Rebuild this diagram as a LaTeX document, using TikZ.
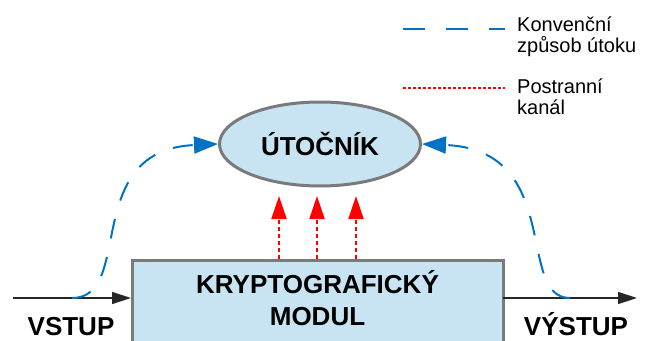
\documentclass[tikz,border=0pt]{standalone}
\usepackage{fontspec}
\setmainfont{Liberation Sans}
\usetikzlibrary{arrows.meta,shapes.geometric}
\definecolor{boxfill}{RGB}{200,228,243}
\definecolor{boxline}{RGB}{122,122,122}
\definecolor{attackblue}{RGB}{0,114,198}
\definecolor{sidered}{RGB}{255,0,0}
\tikzset{
  boxframe/.style={draw=boxline, line width=3pt, fill=boxfill},
  bigtext/.style={font=\fontsize{26}{32}\selectfont\bfseries, inner sep=0pt},
  legendtext/.style={font=\fontsize{20}{21}\selectfont, inner sep=0pt, anchor=base west},
  flowarrow/.style={line width=1.4pt, draw=black!85, -{Triangle[length=19pt,width=12pt]}},
  conventional/.style={line width=2pt, draw=attackblue, dash pattern=on 20pt off 19pt,
    -{Triangle[length=24pt,width=17pt,fill=attackblue]}},
  sidechannel/.style={line width=2pt, draw=sidered, dash pattern=on 4pt off 3pt,
    -{Triangle[length=23pt,width=15pt,fill=sidered]}},
}
\begin{document}
\begin{tikzpicture}[x=1pt,y=-1pt]
  \useasboundingbox (0,0) rectangle (645,340);

  % cryptographic module (runs past the lower edge)
  \node[boxframe, rectangle, minimum width=371pt, minimum height=110pt, anchor=north, inner sep=0pt]
    (module) at (317.5,259) {};
  \node[bigtext, anchor=base] (modline1) at (317.5,293) {KRYPTOGRAFICKÝ};
  \node[bigtext, anchor=base] (modline2) at (317.5,325) {MODUL};

  % attacker
  \node[boxframe, ellipse, minimum width=201pt, minimum height=84pt, inner sep=0pt]
    (attacker) at (320,144) {};
  \node[bigtext] (attackertext) at (320,144) {ÚTOČNÍK};

  % input and output
  \coordinate (inStart) at (13,298);
  \coordinate (inEnd) at (131,298);
  \coordinate (outStart) at (503,298);
  \coordinate (outEnd) at (637,298);
  \draw[flowarrow] (inStart) -- (inEnd);
  \draw[flowarrow] (outStart) -- (outEnd);
  \node[bigtext, anchor=base] (inlabel) at (71,335) {VSTUP};
  \node[bigtext, anchor=base] (outlabel) at (576,335) {VÝSTUP};

  % conventional attack paths
  \coordinate (convIn) at (72,298);
  \coordinate (convOut) at (570,298);
  \draw[conventional] (convIn) .. controls (135,298) and (80,150) .. (attacker.west);
  \draw[conventional] (convOut) .. controls (515,298) and (565,150) .. (attacker.east);

  % side channels
  \foreach \x [count=\i] in {279,317,356} {
    \coordinate (scBase\i) at (\x,259);
    \coordinate (scTip\i) at (\x,196);
    \draw[sidechannel] (scBase\i) -- (scTip\i);
  }

  % legend
  \coordinate (legA1) at (403,29);
  \coordinate (legA2) at (505,29);
  \draw[line width=2pt, draw=attackblue, dash pattern=on 22pt off 21pt] (legA1) -- (legA2);
  \node[legendtext] (legAtext1) at (517,31) {Konvenční};
  \node[legendtext] (legAtext2) at (517,52) {způsob útoku};

  \coordinate (legB1) at (403,88);
  \coordinate (legB2) at (505,88);
  \draw[line width=1.3pt, draw=sidered, dash pattern=on 3pt off 2pt] (legB1) -- (legB2);
  \node[legendtext] (legBtext1) at (517,93) {Postranní};
  \node[legendtext] (legBtext2) at (517,114) {kanál};
\end{tikzpicture}
\end{document}
